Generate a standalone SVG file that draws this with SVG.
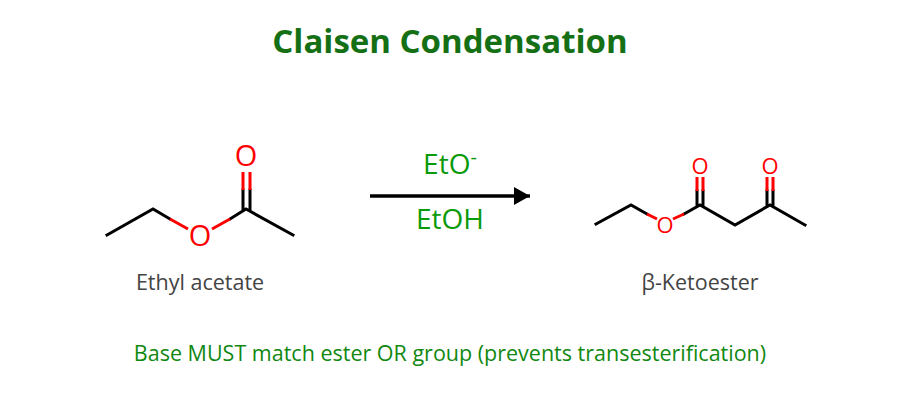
<svg xmlns="http://www.w3.org/2000/svg" width="900" height="400" viewBox="0 0 900 400">
<style>
.b{stroke:#000;stroke-width:3;fill:none;stroke-linecap:square}
.r{stroke:#f00;stroke-width:3;fill:none}
.o{fill:#f00;font-family:"Open Sans","DejaVu Sans",sans-serif;text-anchor:middle}
.lbl{fill:#444;font-family:"Open Sans","DejaVu Sans",sans-serif;font-size:21.5px;text-anchor:middle}
.g{fill:#0a9a0a;font-family:"Open Sans","DejaVu Sans",sans-serif;text-anchor:middle}
</style>
<defs><marker id="ah" markerWidth="16" markerHeight="18" refX="16" refY="9" orient="auto" markerUnits="userSpaceOnUse"><path d="M0,0 L16,9 L0,18z" fill="#000"/></marker></defs>
<rect width="900" height="400" fill="#fff"/>
<text x="450" y="53" text-anchor="middle" font-family="'Open Sans','DejaVu Sans',sans-serif" font-weight="bold" font-size="33" fill="#157015">Claisen Condensation</text>
<g id="ethyl-acetate">
<path class="b" d="M107,235 L153,209 L170,219 M230,219 L246,209 L293,235 M243,209 L243,190 M250,209 L250,190"/>
<path class="r" d="M170,219 L188,229 M212,229 L230,219 M243,190 L243,172 M250,190 L250,172"/>
<text class="o" x="200" y="246" font-size="29">O</text>
<text class="o" x="246" y="166" font-size="29">O</text>
<text class="lbl" x="200" y="290">Ethyl acetate</text>
</g>
<g id="connectors">
<line x1="370" y1="196" x2="530" y2="196" stroke="#000" stroke-width="3.5" marker-end="url(#ah)"/>
<text class="g" x="450" y="174" font-size="28">EtO<tspan font-size="20" dy="-10">-</tspan></text>
<text class="g" x="450" y="229" font-size="28">EtOH</text>
</g>
<g id="ketoester">
<path class="b" d="M596,224 L631,205 L647,214 M684,214 L700,205 L735,225 L770,205 L805,225 M697,205 L697,191 M703,205 L703,191 M767,205 L767,191 M773,205 L773,191"/>
<path class="r" d="M647,214 L657,219 M673,219 L684,214 M697,191 L697,177 M703,191 L703,177 M767,191 L767,177 M773,191 L773,177"/>
<text class="o" x="665" y="233" font-size="22">O</text>
<text class="o" x="700" y="174" font-size="22">O</text>
<text class="o" x="770" y="174" font-size="22">O</text>
<text class="lbl" x="700" y="290">β-Ketoester</text>
</g>
<text class="g" x="450" y="361" font-size="21.5" style="fill:#118811">Base MUST match ester OR group (prevents transesterification)</text>
</svg>
